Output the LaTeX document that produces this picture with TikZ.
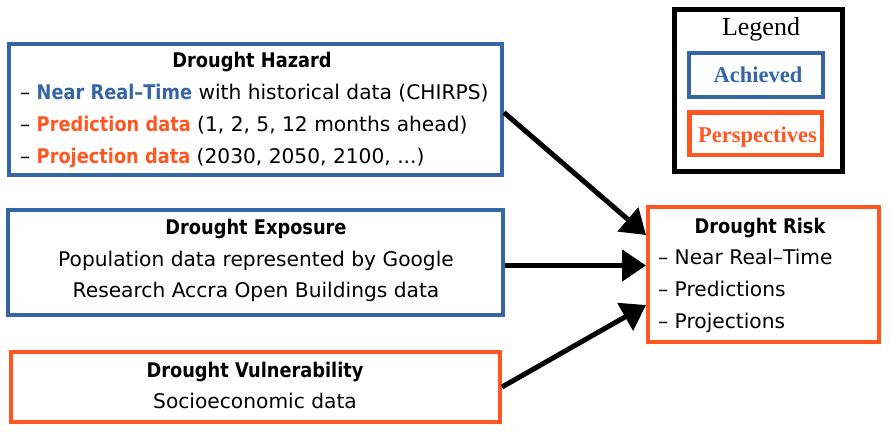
\documentclass[tikz,border=0pt]{standalone}
\usepackage{fontspec}
\setmainfont{DejaVu Sans}
\newfontfamily\legendfont{Liberation Serif}
\newfontfamily\narrowfam[FakeStretch=0.88]{DejaVu Sans}
\usetikzlibrary{arrows.meta}
\definecolor{hblue}{RGB}{52,101,164}
\definecolor{horange}{RGB}{255,87,34}
\newcommand{\inbf}[2]{\textcolor{#1}{\narrowfam\bfseries #2}}
\tikzset{
  box/.style={draw, line width=4pt, inner sep=0pt, fill=white},
  bluebox/.style={box, draw=hblue},
  orangebox/.style={box, draw=horange},
  body/.style={font=\fontsize{20.2}{22}\selectfont, inner sep=0pt},
  ttl/.style={font=\narrowfam\fontsize{20.2}{22}\selectfont\bfseries, inner sep=0pt},
  arr/.style={line width=5pt, -{Triangle[length=24pt,width=31pt]}},
}
\begin{document}
\begin{tikzpicture}[x=1pt,y=-1pt]
\useasboundingbox (0,0) rectangle (891,431);
% boxes
\node[bluebox, minimum width=493pt, minimum height=131pt] (hazard) at (255.5,109.5) {};
\node[bluebox, minimum width=495pt, minimum height=105pt] (exposure) at (255.5,262.5) {};
\node[orangebox, minimum width=489pt, minimum height=70pt] (vuln) at (255.5,387) {};
\node[orangebox, minimum width=231pt, minimum height=135pt] (risk) at (763.5,274.5) {};
% legend
\node[draw, line width=5pt, inner sep=0pt, minimum width=168pt, minimum height=162.5pt] (legend) at (758.5,90.25) {};
\node[bluebox, line width=4.5pt, minimum width=134pt, minimum height=44pt] (achbox) at (756,75) {};
\node[orangebox, line width=4.5pt, minimum width=132.5pt, minimum height=42.5pt] (perbox) at (755.75,133.75) {};
\node[anchor=base, inner sep=0pt, font=\legendfont\fontsize{26}{30}\selectfont] (legtitle) at (761,35) {Legend};
\node[anchor=base, inner sep=0pt, text=hblue, font=\legendfont\bfseries\fontsize{22.5}{26}\selectfont] (achtxt) at (758,82) {Achieved};
\node[anchor=base, inner sep=0pt, text=horange, font=\legendfont\bfseries\fontsize{22.5}{26}\selectfont] (pertxt) at (757.5,142) {Perspectives};
% hazard text
\node[ttl, anchor=base] (hazt) at (252,67) {Drought Hazard};
\node[body, anchor=base west] (haz1) at (20,99) {– \inbf{hblue}{Near Real–Time} with historical data (CHIRPS)};
\node[body, anchor=base west] (haz2) at (20,131) {– \inbf{horange}{Prediction data} (1, 2, 5, 12 months ahead)};
\node[body, anchor=base west] (haz3) at (20,163) {– \inbf{horange}{Projection data} (2030, 2050, 2100, ...)};
% exposure text
\node[ttl, anchor=base] (expt) at (256,234) {Drought Exposure};
\node[body, anchor=base] (exp1) at (256,266) {Population data represented by Google};
\node[body, anchor=base] (exp2) at (256,297) {Research Accra Open Buildings data};
% vulnerability text
\node[ttl, anchor=base] (vult) at (255,377) {Drought Vulnerability};
\node[body, anchor=base] (vul1) at (255,408) {Socioeconomic data};
% risk text
\node[ttl, anchor=base] (riskt) at (760,233) {Drought Risk};
\node[body, anchor=base west] (risk1) at (658,264) {– Near Real–Time};
\node[body, anchor=base west] (risk2) at (658,296) {– Predictions};
\node[body, anchor=base west] (risk3) at (658,328) {– Projections};
% arrows
\coordinate (hout) at ([yshift=-3pt]hazard.east);
\coordinate (eout) at ([yshift=-3pt]exposure.east);
\coordinate (rin1) at ([yshift=-30pt]risk.north west);
\coordinate (rin3) at ([yshift=39pt]risk.south west);
\draw[arr] (hout) -- (rin1);
\draw[arr] (eout) -- (risk.west |- eout);
\draw[arr] (vuln.east) -- (rin3);
\end{tikzpicture}
\end{document}
